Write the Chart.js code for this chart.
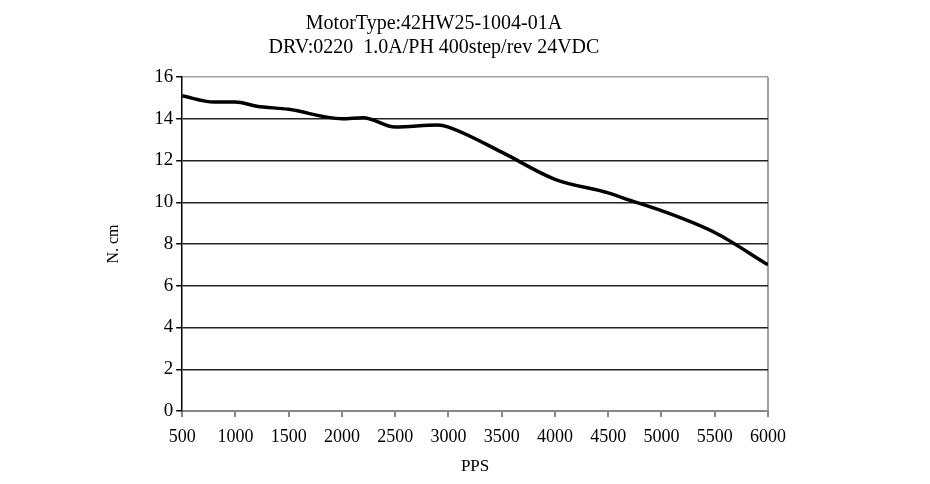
<!DOCTYPE html>
<html>
<head>
<meta charset="utf-8">
<script src="https://cdn.jsdelivr.net/npm/chart.js@4/dist/chart.umd.min.js"></script>
<style>
  html, body { margin: 0; padding: 0; background: #fff; }
  #wrap { width: 930px; height: 484px; position: relative; }
</style>
</head>
<body>
<div id="wrap"><canvas id="c1"></canvas></div>
<script>
const titleLines = ['MotorType:42HW25-1004-01A', 'DRV:0220  1.0A/PH 400step/rev 24VDC'];
const speedPPS = [500, 800, 1000, 1200, 1500, 2000, 2200, 2500, 2900, 3000, 3500, 4000, 4500, 4700, 5000, 5500, 6000];
const torqueNcm = [15.1, 14.8, 14.8, 14.6, 14.45, 14.0, 14.05, 13.6, 13.7, 13.6, 12.4, 11.1, 10.45, 10.1, 9.6, 8.55, 7.0];
const xTicks = [500, 1000, 1500, 2000, 2500, 3000, 3500, 4000, 4500, 5000, 5500, 6000];
const yTicks = [0, 2, 4, 6, 8, 10, 12, 14, 16];

const serif = '"Liberation Serif", "DejaVu Serif", serif';

new Chart(document.getElementById('c1'), {
    type: 'line',
    data: {
        datasets: [{
            label: 'N. cm',
            data: speedPPS.map((x, i) => ({ x: x, y: torqueNcm[i] })),
            borderColor: '#000',
            borderWidth: 3.5,
            pointRadius: 0,
            fill: false,
            cubicInterpolationMode: 'monotone'
        }]
    },
    options: {
        responsive: true,
        maintainAspectRatio: false,
        animation: false,
        layout: { padding: { top: 4, right: 162, bottom: 3, left: 100 } },
        plugins: {
            legend: { display: false },
            tooltip: { enabled: false },
            title: {
                display: true,
                text: titleLines,
                color: '#000',
                font: { family: serif, size: 20, weight: 'normal' },
                lineHeight: 1.25,
                padding: { top: 8, bottom: 17 }
            }
        },
        scales: {
            x: {
                type: 'linear',
                min: 500,
                max: 6000,
                afterBuildTicks: axis => { axis.ticks = xTicks.map(v => ({ value: v })); },
                ticks: {
                    color: '#000',
                    font: { family: serif, size: 18 },
                    maxRotation: 0,
                    padding: 9,
                    callback: v => String(v)
                },
                grid: {
                    color: c => c.tick && c.tick.value === 6000 ? '#a0a0a0' : 'transparent',
                    lineWidth: 2,
                    tickColor: '#888',
                    tickLength: 6
                },
                border: { color: '#888', width: 2 },
                title: {
                    display: true,
                    text: 'PPS',
                    color: '#000',
                    font: { family: serif, size: 17 },
                    padding: { top: 0 }
                }
            },
            y: {
                min: 0,
                max: 16,
                afterBuildTicks: axis => { axis.ticks = yTicks.map(v => ({ value: v })); },
                ticks: {
                    color: '#000',
                    font: { family: serif, size: 19 },
                    padding: 3
                },
                grid: {
                    color: c => c.tick && c.tick.value === 16 ? '#a0a0a0' : '#222',
                    lineWidth: 1.5,
                    tickColor: '#000',
                    tickLength: 6
                },
                border: { color: '#000', width: 1.5 },
                title: {
                    display: true,
                    text: 'N. cm',
                    color: '#000',
                    font: { family: serif, size: 16 },
                    padding: { bottom: 28 }
                }
            }
        }
    }
});
</script>
</body>
</html>
